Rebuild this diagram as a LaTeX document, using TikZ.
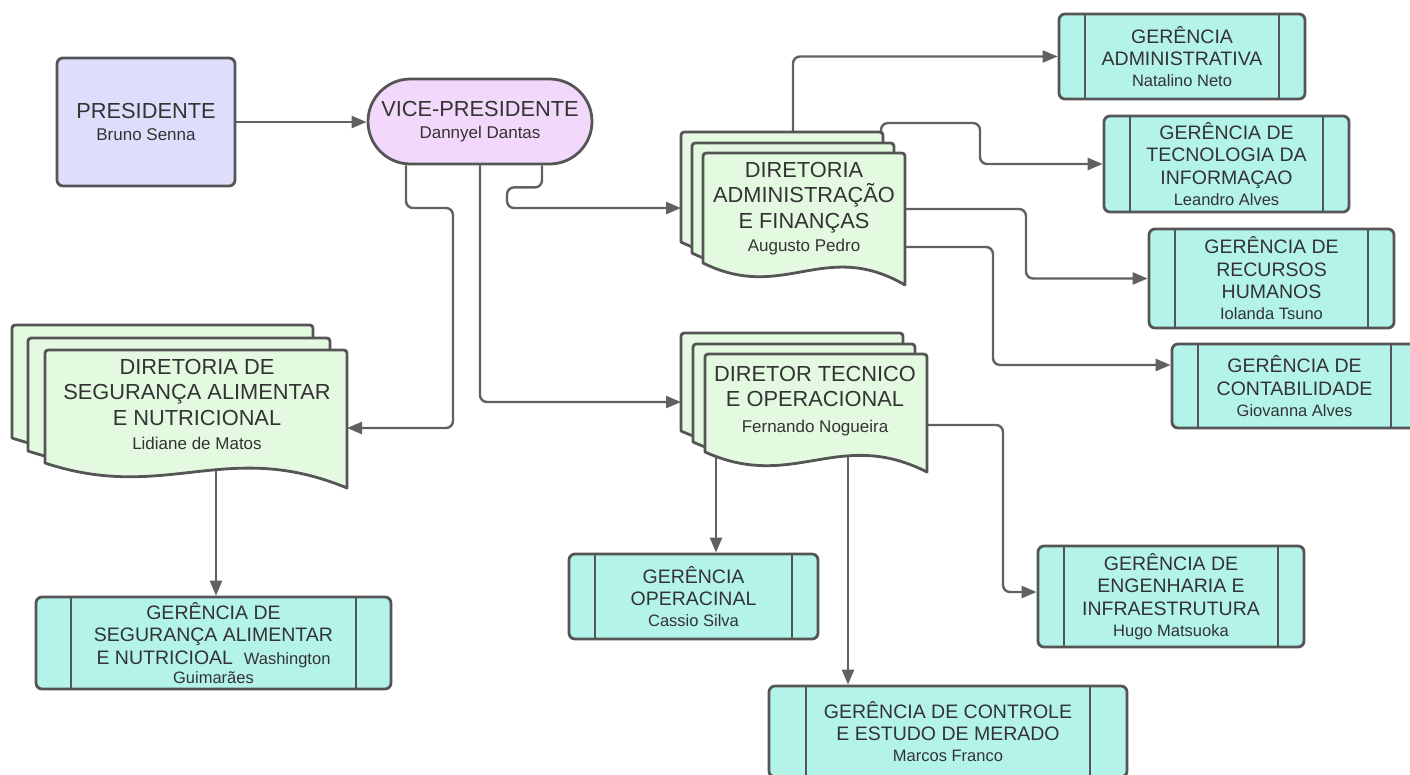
\documentclass[tikz,border=0pt]{standalone}
\usepackage{fontspec}
\setmainfont{Liberation Sans}
\usetikzlibrary{arrows.meta,shapes.misc}
\definecolor{lnc}{HTML}{616161}
\definecolor{bdc}{HTML}{555555}
\definecolor{txc}{HTML}{333333}
\definecolor{presf}{HTML}{DEDEFC}
\definecolor{vpf}{HTML}{F2D8FA}
\definecolor{docf}{HTML}{E3FAE0}
\definecolor{gerf}{HTML}{B4F3EA}
\pgfdeclarelayer{bg}
\pgfsetlayers{bg,main}
\newcommand{\nmd}[1]{{\fontsize{17}{20}\selectfont #1}}
\newcommand{\nmg}[1]{{\fontsize{16.5}{20}\selectfont #1}}
% x0 y0 x1 yL yR
\newcommand{\docpage}[5]{%
  \draw[docp] (#1,#4) -- ({#1},{#2+7}) .. controls (#1,#2) .. ({#1+7},#2)
    -- ({#3-7},#2) .. controls (#3,#2) .. (#3,{#2+7}) -- (#3,#5)
    .. controls ({#1+0.6*(#3-#1)},{#4-25}) and ({#1+0.4*(#3-#1)},{#4+40}) .. (#1,#4) -- cycle;}
\begin{document}
\begin{tikzpicture}[x=1pt,y=-1pt,
  conn/.style={draw=lnc, line width=2.4pt, rounded corners=7pt, -{Triangle[length=15pt,width=12pt]}},
  bigf/.style={font=\fontsize{21.8}{25.5}\selectfont},
  docp/.style={draw=bdc, line width=2.8pt, fill=docf, line join=round},
  stk/.style={inner sep=0pt, outer sep=0pt},
  dtxt/.style={inner sep=0pt, anchor=north, align=center, text=txc, bigf},
  gbox/.style={draw=bdc, line width=2.8pt, fill=gerf, rounded corners=6pt, inner sep=0pt,
    text=txc, align=center, font=\fontsize{19.5}{22.5}\selectfont,
    path picture={\draw[bdc,line width=2.8pt]
      ([xshift=#1]path picture bounding box.north west) -- ([xshift=#1]path picture bounding box.south west)
      ([xshift=-#1]path picture bounding box.north east) -- ([xshift=-#1]path picture bounding box.south east);}},
]
\path[use as bounding box] (0,0) rectangle (1410,774);
\clip (0,0) rectangle (1410,774);

% top boxes
\node[draw=bdc, line width=2.8pt, fill=presf, rounded corners=6pt, minimum width=178pt, minimum height=128pt,
  align=center, text=txc, bigf] (pres) at (146,122) {PRESIDENTE\\[-4.2pt]\nmd{Bruno Senna}};
\node[draw=bdc, line width=2.8pt, fill=vpf, rounded rectangle, minimum width=224pt, minimum height=85pt,
  inner sep=0pt, align=center, text=txc, bigf] (vp) at (480,121.5) {VICE-PRESIDENTE\\[-4.2pt]\nmd{Dannyel Dantas}};

% stacked documents: administracao
\docpage{681}{132}{883}{242}{264}
\docpage{692}{143}{894}{253}{275}
\docpage{703}{153}{905}{263}{285}
\node[stk, minimum width=224pt, minimum height=131pt] (dadm) at (793,197.5) {};
\node[dtxt] (dadm-t) at (804,162) {DIRETORIA\\ADMINISTRAÇÃO\\E FINANÇAS\\[-2.7pt]\nmd{Augusto Pedro}};

% stacked documents: tecnico
\docpage{681}{333}{903}{431}{451}
\docpage{693}{344}{915}{442}{462}
\docpage{705}{354}{927}{452}{472}
\node[stk, minimum width=246pt, minimum height=119pt] (ddt) at (804,392.5) {};
\node[dtxt] (ddt-t) at (815,366) {DIRETOR TECNICO\\E OPERACIONAL\\[-0.4pt]\nmd{Fernando Nogueira}};

% stacked documents: seguranca
\docpage{12}{325}{313}{438}{463}
\docpage{28}{338}{330}{451}{476}
\docpage{45}{350}{347}{463}{488}
\node[stk, minimum width=335pt, minimum height=138pt] (dseg) at (179.5,394) {};
\node[dtxt] (dseg-t) at (197,359) {DIRETORIA DE\\SEGURANÇA ALIMENTAR\\E NUTRICIONAL\\[-1pt]\nmd{Lidiane de Matos}};

% gerencias
\node[gbox=26pt, minimum width=246pt, minimum height=85pt] (gadm) at (1182,56.5)
  {GERÊNCIA\\ADMINISTRATIVA\\[-1.6pt]\nmg{Natalino Neto}};
\node[gbox=26pt, minimum width=245pt, minimum height=96pt] (gti) at (1226.5,164)
  {GERÊNCIA DE\\TECNOLOGIA DA\\INFORMAÇAO\\[-1.6pt]\nmg{Leandro Alves}};
\node[gbox=26pt, minimum width=245pt, minimum height=99pt] (grh) at (1271.5,278.5)
  {GERÊNCIA DE\\RECURSOS\\HUMANOS\\[-1.6pt]\nmg{Iolanda Tsuno}};
\node[gbox=26pt, minimum width=245pt, minimum height=84pt] (gcont) at (1294.5,386)
  {GERÊNCIA DE\\CONTABILIDADE\\[-1.6pt]\nmg{Giovanna Alves}};
\node[gbox=35pt, minimum width=355pt, minimum height=92pt] (gseg) at (213.5,643)
  {GERÊNCIA DE\\SEGURANÇA ALIMENTAR\\E NUTRICIOAL\ \ \nmg{Washington}\\[-2.6pt]\nmg{Guimarães}};
\node[gbox=26pt, minimum width=249pt, minimum height=85pt] (gop) at (693.5,596.5)
  {GERÊNCIA\\OPERACINAL\\[-1.6pt]\nmg{Cassio Silva}};
\node[gbox=37pt, minimum width=358pt, minimum height=91pt] (gcon) at (948,731.5)
  {GERÊNCIA DE CONTROLE\\E ESTUDO DE MERADO\\[-1.6pt]\nmg{Marcos Franco}};
\node[gbox=26pt, minimum width=266pt, minimum height=101pt] (geng) at (1171,596.5)
  {GERÊNCIA DE\\ENGENHARIA E\\INFRAESTRUTURA\\[-1.6pt]\nmg{Hugo Matsuoka}};

% connectors
\begin{pgfonlayer}{bg}
\draw[conn] (pres.east) -- (vp.west |- pres.east);
\draw[conn] ([xshift=-74pt]vp.south) |- (453,208) |- (dseg.east |- 0,428);
\draw[conn] (vp.south) |- (ddt.west |- 0,402);
\draw[conn] ([xshift=62pt]vp.south) -- ++(0,22) -| (507,208) -- (dadm.west |- 0,208);
\draw[conn] (dadm.north) |- (gadm.west);
\draw[conn] (dadm.north -| 881,0) |- (980,123) |- (gti.west);
\draw[conn] (dadm.east |- 0,209) -| (1026,278.5) -- (grh.west);
\draw[conn] (dadm.east |- 0,247) -| (993,365) -- (gcont.west |- 0,365);
\draw[conn] (ddt.south -| 716,0) -- (gop.north -| 716,0);
\draw[conn] (ddt.south -| 848,0) -- (gcon.north -| 848,0);
\draw[conn] (ddt.east |- 0,425) -| (1003,592) -- (geng.west |- 0,592);
\draw[conn] (dseg.south -| 216,0) -- (gseg.north -| 216,0);
\end{pgfonlayer}
\end{tikzpicture}
\end{document}
